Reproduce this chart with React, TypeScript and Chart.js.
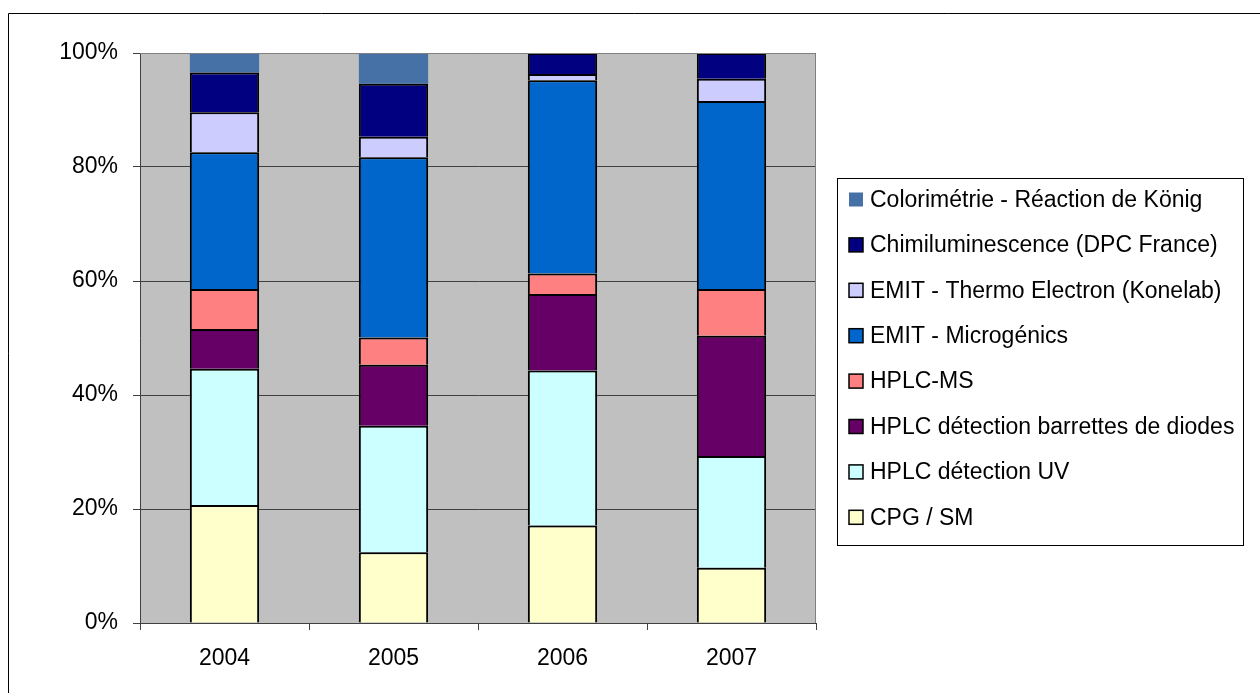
import React, { useEffect, useRef } from "react";
import { Chart, registerables } from "chart.js";

Chart.register(...registerables);

const years = ["2004", "2005", "2006", "2007"];
const yTicks = [0, 20, 40, 60, 80, 100];

const cpgSm = [20.7, 12.4, 17.1, 9.7];
const hplcUv = [23.9, 22.2, 27.2, 19.6];
const hplcDad = [7.0, 10.7, 13.4, 21.1];
const hplcMs = [7.0, 4.8, 3.6, 8.2];
const emitMicro = [24.0, 31.6, 33.9, 33.0];
const emitThermo = [7.0, 3.6, 1.1, 3.9];
const chimi = [7.0, 9.3, 3.7, 4.5];
const colori = [3.4, 5.4, 0, 0];

const seriesNames = [
  "CPG / SM",
  "HPLC détection UV",
  "HPLC détection barrettes de diodes",
  "HPLC-MS",
  "EMIT - Microgénics",
  "EMIT - Thermo Electron (Konelab)",
  "Chimiluminescence (DPC France)",
  "Colorimétrie - Réaction de König",
];
const seriesValues = [cpgSm, hplcUv, hplcDad, hplcMs, emitMicro, emitThermo, chimi, colori];
const seriesColors = ["#FFFFCC", "#CCFFFF", "#660066", "#FF8080", "#0066CC", "#CCCCFF", "#000080", "#4571A6"];
const seriesBorder = [2, 2, 2, 2, 2, 2, 2, 0];

const FONT = "'Liberation Sans', Arial, sans-serif";
const FS = 23;

const framePlugin = {
  id: "frame",
  beforeDraw(chart: any) {
    const ctx = chart.ctx;
    ctx.save();
    ctx.fillStyle = "#FFFFFF";
    ctx.fillRect(0, 0, chart.width, chart.height);
    ctx.strokeStyle = "#000000";
    ctx.lineWidth = 1;
    ctx.beginPath();
    ctx.moveTo(8.5, chart.height + 5);
    ctx.lineTo(8.5, 13.5);
    ctx.lineTo(chart.width + 5, 13.5);
    ctx.stroke();
    const a = chart.chartArea;
    ctx.fillStyle = "#C0C0C0";
    ctx.fillRect(a.left, a.top, a.right - a.left, a.bottom - a.top);
    ctx.restore();
  },
  afterDatasetsDraw(chart: any) {
    const ctx = chart.ctx;
    const a = chart.chartArea;
    ctx.save();
    ctx.strokeStyle = "#808080";
    ctx.lineWidth = 1;
    ctx.beginPath();
    ctx.moveTo(a.left, a.top + 0.5);
    ctx.lineTo(a.right - 0.5, a.top + 0.5);
    ctx.lineTo(a.right - 0.5, a.bottom);
    ctx.stroke();
    ctx.restore();
  },
  afterDraw(chart: any) {
    const ctx = chart.ctx;
    ctx.save();
    const bx = 837.5, by = 178.5, bw = 406, bh = 367;
    ctx.fillStyle = "#FFFFFF";
    ctx.fillRect(bx, by, bw, bh);
    ctx.strokeStyle = "#000000";
    ctx.lineWidth = 1;
    ctx.strokeRect(bx, by, bw, bh);
    const ds = chart.data.datasets;
    const n = ds.length;
    ctx.font = `${FS}px ${FONT}`;
    ctx.textBaseline = "middle";
    ctx.textAlign = "left";
    for (let i = 0; i < n; i++) {
      const d = ds[n - 1 - i];
      const cy = 199.5 + i * 45.4;
      ctx.fillStyle = d.backgroundColor;
      ctx.fillRect(849, cy - 7, 14, 14);
      if (d.borderWidth > 0) {
        ctx.strokeStyle = "#000000";
        ctx.lineWidth = 1.5;
        ctx.strokeRect(849, cy - 7, 14, 14);
      }
      ctx.fillStyle = "#000000";
      ctx.fillText(d.label, 870, cy + 1);
    }
    ctx.restore();
  },
};

export default function App() {
  const ref = useRef<HTMLCanvasElement | null>(null);
  useEffect(() => {
    if (!ref.current) return;
    const chart = new Chart(ref.current, {
      type: "bar",
      data: {
        labels: years,
        datasets: seriesNames.map((name, i) => ({
          label: name,
          data: seriesValues[i],
          backgroundColor: seriesColors[i],
          borderColor: "#000000",
          borderWidth: seriesBorder[i],
          categoryPercentage: 1,
          barPercentage: 0.41,
        })),
      },
      options: {
        responsive: false,
        animation: false,
        events: [],
        layout: { padding: { left: 0, top: 53, right: 444, bottom: 0 } },
        plugins: {
          legend: { display: false },
          tooltip: { enabled: false },
          title: { display: false },
        },
        scales: {
          x: {
            stacked: true,
            afterFit: (s: any) => {
              s.height = 70;
            },
            grid: {
              offset: true,
              drawOnChartArea: false,
              drawTicks: true,
              tickLength: 7,
              color: "#404040",
            },
            border: { display: true, color: "#404040", width: 1 },
            ticks: {
              color: "#000000",
              font: { family: FONT, size: FS },
              padding: 15,
              maxRotation: 0,
            },
          },
          y: {
            stacked: true,
            min: 0,
            max: 100,
            afterFit: (s: any) => {
              s.width = 140;
            },
            afterBuildTicks: (s: any) => {
              s.ticks = yTicks.map((v) => ({ value: v }));
            },
            grid: {
              color: "#404040",
              lineWidth: 1,
              drawTicks: true,
              tickLength: 7,
            },
            border: { display: true, color: "#404040", width: 1 },
            ticks: {
              color: "#000000",
              font: { family: FONT, size: FS },
              padding: 15,
              callback: (v: any) => `${v}%`,
            },
          },
        },
      },
      plugins: [framePlugin],
    });
    return () => chart.destroy();
  }, []);
  return (
    <div style={{ position: "absolute", left: 0, top: 0, width: 1260, height: 693 }}>
      <canvas ref={ref} width={1260} height={693} style={{ display: "block", width: 1260, height: 693 }} />
    </div>
  );
}
